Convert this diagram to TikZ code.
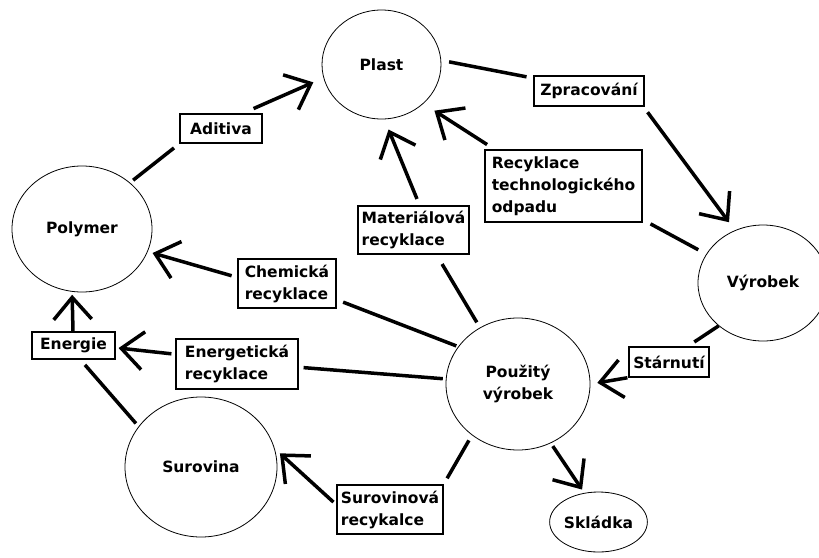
\documentclass[tikz,border=0pt]{standalone}
\usepackage{fontspec}
\setmainfont{DejaVu Sans}
\usetikzlibrary{shapes.geometric,arrows.meta}
\begin{document}
\begin{tikzpicture}[x=1pt,y=1pt,
  lab/.style={font=\bfseries\fontsize{15.5}{22}\selectfont},
  circ/.style={ellipse, draw, line width=0.8pt, inner sep=0pt, lab},
  box/.style={rectangle, draw, line width=1.2pt, inner sep=0pt, align=left, lab},
  ln/.style={line width=3.5pt},
  arr/.style={ln, -{Straight Barb[length=22pt,width=38pt]}}]
\useasboundingbox (0,0) rectangle (819,-557);
\clip (0,0) rectangle (819,-557);
\fill[white] (0,0) rectangle (819,-557);
% circles
\node[circ, minimum width=119, minimum height=109] (plast) at (381.5,-64.5) {Plast};
\node[circ, minimum width=140, minimum height=126] (poly) at (82,-229) {Polymer};
\node[circ, minimum width=152, minimum height=140] (surov) at (201,-467) {Surovina};
\node[circ, minimum width=144, minimum height=132, align=center] (pouz) at (518,-384) {Použitý\\výrobek};
\node[circ, minimum width=130, minimum height=116] (vyr) at (763,-283) {Výrobek};
\node[circ, minimum width=83, minimum height=60] (sklad) at (598.5,-522) {Skládka};
% boxes
\node[box, minimum width=82, minimum height=29] (adit) at (221,-128.5) {Aditiva};
\node[box, minimum width=110, minimum height=30] (zprac) at (589,-91) {Zpracování};
\node[box, minimum width=157, minimum height=72] (rtech) at (563.5,-186) {Recyklace\\technologického\\odpadu};
\node[box, minimum width=111, minimum height=48] (mater) at (413.5,-230) {Materiálová\\recyklace};
\node[box, minimum width=98, minimum height=49] (chem) at (287,-283.5) {Chemická\\recyklace};
\node[box, minimum width=122, minimum height=50] (energ) at (237,-364) {Energetická\\recyklace};
\node[box, minimum width=83, minimum height=27] (energie) at (73.5,-345.5) {Energie};
\node[box, minimum width=106, minimum height=49] (surrec) at (390,-509.5) {Surovinová\\recykalce};
\node[box, minimum width=80, minimum height=30] (starn) at (669,-362) {Stárnutí};
% connectors
\draw[ln, shorten <=4pt, shorten >=7pt] (poly.44) -- (adit.200);
\draw[arr, shorten <=12pt, shorten >=11pt] (adit.35) -- (plast.193);
\draw[ln, shorten <=8pt, shorten >=7pt] (plast.4) -- (zprac.167);
\draw[arr, shorten <=7pt, shorten >=10pt] (zprac.-16) -- (vyr.118);
\draw[ln, shorten <=9pt, shorten >=9pt] (vyr.153) -- (rtech.-23);
\draw[arr, shorten <=9pt, shorten >=13pt] (rtech.152) -- (plast.-43);
\draw[ln, shorten <=6pt, shorten >=11pt] (pouz.124) -- (mater.-47);
\draw[arr, shorten <=7pt, shorten >=11pt] (mater.76) -- (plast.-87);
\draw[ln, shorten <=2pt, shorten >=7pt] (pouz.148) -- (chem.-18);
\draw[arr, shorten <=6pt, shorten >=5pt] (chem.173) -- (poly.-19);
\draw[ln, shorten <=3pt, shorten >=5pt] (pouz.176) -- (energ.-3.5);
\draw[arr, shorten <=4pt, shorten >=3pt] (energ.171) -- (energie.-3);
\draw[arr, shorten <=0pt, shorten >=3pt] (energie.92) -- (poly.-99);
\draw[ln, shorten <=4pt, shorten >=7pt] (surov.147.5) -- (energie.-64);
\draw[ln, shorten <=6pt, shorten >=7pt] (pouz.228) -- (surrec.north east);
\draw[arr, shorten <=4pt, shorten >=7pt] (surrec.175.5) -- (surov.14);
\draw[ln, shorten <=0pt, shorten >=8pt] (vyr.224) -- (starn.40);
\draw[arr, shorten <=1pt, shorten >=7pt] (starn.201) -- (pouz.0.7);
\draw[arr, shorten <=3.5pt, shorten >=4pt] (pouz.-61) -- (sklad.116);
\end{tikzpicture}
\end{document}
